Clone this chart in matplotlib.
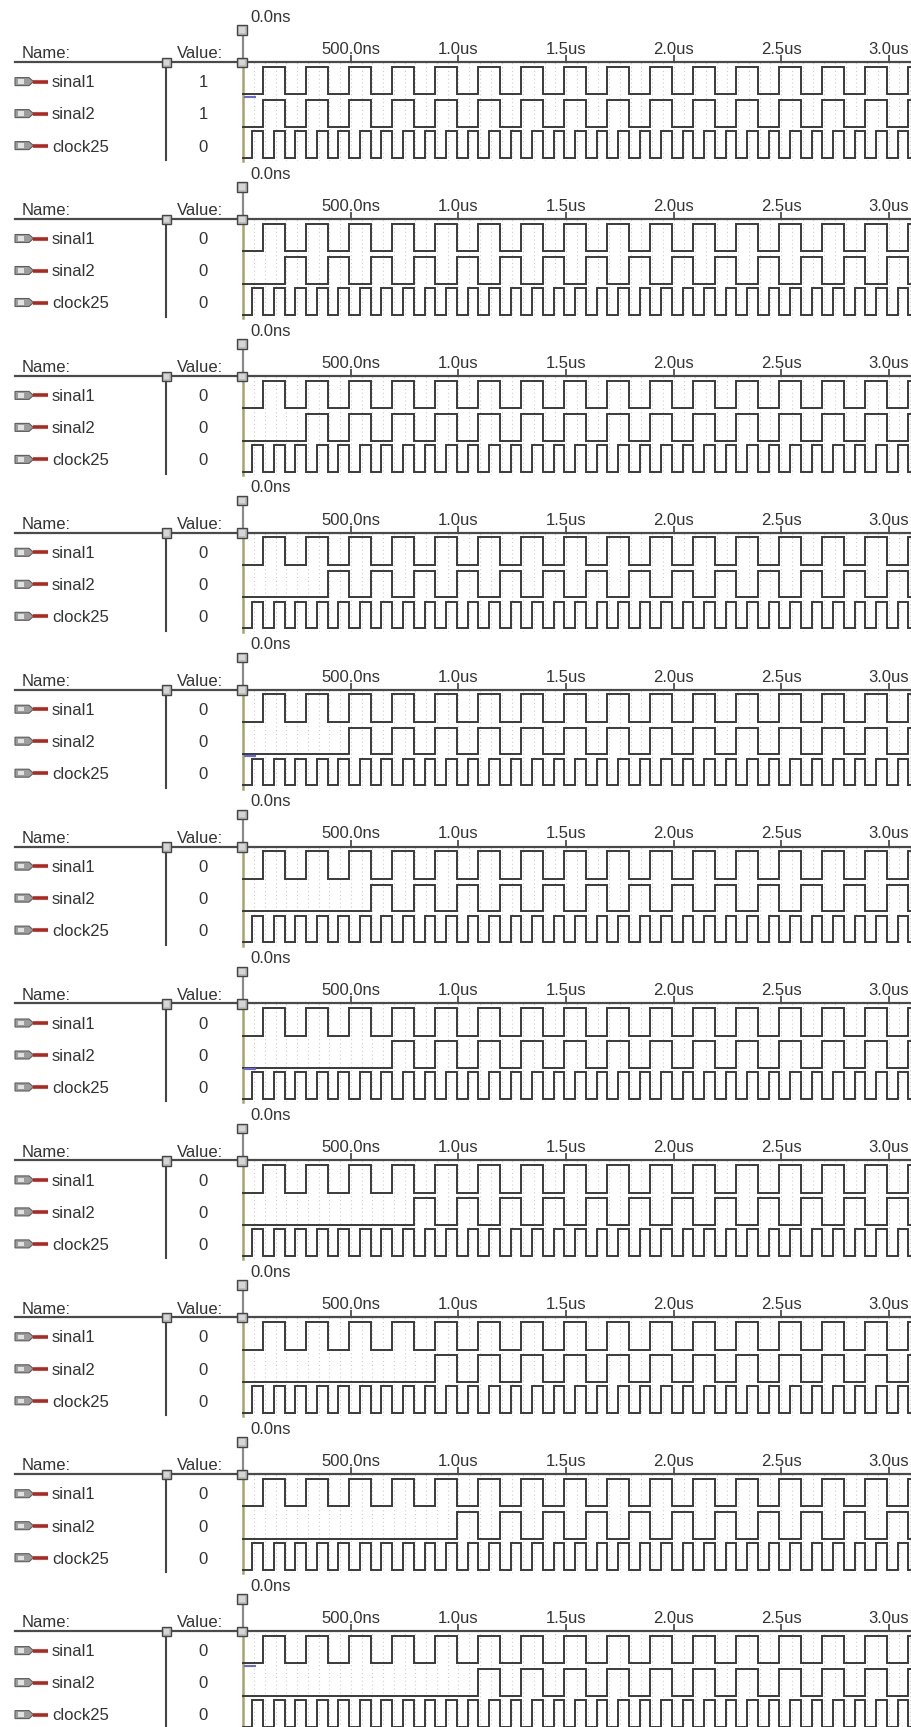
import matplotlib
matplotlib.use("Agg")
import matplotlib.pyplot as plt
from matplotlib.patches import Rectangle, Polygon

plt.rcParams['font.family'] = ['Liberation Sans', 'DejaVu Sans']

# values, times in ns
signal_names = ['sinal1', 'sinal2', 'clock25']
panel_values = [
    ['1', '1', '0'],
    ['0', '0', '0'],
    ['0', '0', '0'],
    ['0', '0', '0'],
    ['0', '0', '0'],
    ['0', '0', '0'],
    ['0', '0', '0'],
    ['0', '0', '0'],
    ['0', '0', '0'],
    ['0', '0', '0'],
    ['0', '0', '0'],
]
sinal2_delay_ns = [0, 100, 200, 300, 400, 500, 600, 700, 800, 900, 1000]
sinal1_toggle_ns = [92, 192, 292, 392, 492, 592, 692, 792, 892, 992,
                    1092, 1192, 1292, 1392, 1492, 1592, 1692, 1792, 1892, 1992,
                    2092, 2192, 2292, 2392, 2492, 2592, 2692, 2792, 2892, 2992,
                    3092]
clock25_edge_ns = [42, 92, 142, 192, 242, 292, 342, 392, 442, 492,
                   542, 592, 642, 692, 742, 792, 842, 892, 942, 992,
                   1042, 1092, 1142, 1192, 1242, 1292, 1342, 1392, 1442, 1492,
                   1542, 1592, 1642, 1692, 1742, 1792, 1842, 1892, 1942, 1992,
                   2042, 2092, 2142, 2192, 2242, 2292, 2342, 2392, 2442, 2492,
                   2542, 2592, 2642, 2692, 2742, 2792, 2842, 2892, 2942, 2992,
                   3042, 3092]
tick_ns = [500, 1000, 1500, 2000, 2500, 3000]
tick_labels = ['500.0ns', '1.0us', '1.5us', '2.0us', '2.5us', '3.0us']
blue_mark_row = [1, None, None, None, 2, None, 2, None, None, None, 1]
blue_mark_ns = [7, 54]

# layout (pixels of the 912x1727 picture)
W, H = 912, 1727
PANEL_H = 156.9
X0 = 243.4          # x of t = 0
PX_NS = 0.2151      # pixels per ns
LINE_Y = 62         # header line inside a panel
AX_LEFT = 15
AX_H = 99
T_END = (W - X0) / PX_NS
levels = [(4.7, 32.3), (38.0, 64.7), (69.0, 95.7)]   # (high, low) below header line
row_base = [87.3, 119.4, 151.5]
row_mid = [81.6, 113.6, 145.6]
INK = '#333333'
WAVE = '#3a3a3a'
FS = 12


def waveform(ax, toggles, hi, lo):
    xs, ys, lev = [0], [lo], lo
    for t in toggles:
        if t >= T_END:
            break
        lev = hi if lev == lo else lo
        xs.append(t)
        ys.append(lev)
    xs.append(T_END)
    ys.append(lev)
    ax.step(xs, ys, where='post', color=WAVE, lw=1.4, solid_joinstyle='miter', zorder=3)


def handle(ov, cx, cy, s=9.5):
    ov.add_patch(Rectangle((cx - s / 2, cy - s / 2), s, s, facecolor='#bdbdbd',
                           edgecolor='#454545', lw=1.0, zorder=6))
    ov.add_patch(Rectangle((cx - s / 2 + 2, cy - s / 2 + 2), s - 4, s - 4,
                           facecolor='#d6d6d6', edgecolor='none', zorder=7))


def icon(ov, y):
    ov.add_patch(Polygon([(15, y - 4), (29, y - 4), (33.5, y), (29, y + 4), (15, y + 4)],
                         closed=True, facecolor='#9c9c9c', edgecolor='#5e5e5e', lw=0.8, zorder=6))
    ov.add_patch(Rectangle((18, y - 2.2), 6, 4.4, facecolor='#e2e2e2', edgecolor='none', zorder=7))
    ov.plot([33.5, 48], [y, y], color='#b3261e', lw=2.6, solid_capstyle='butt', zorder=6)


fig = plt.figure(figsize=(W / 100, H / 100), dpi=100)
fig.patch.set_facecolor('white')

for k in range(len(panel_values)):
    off = k * PANEL_H
    top = off + LINE_Y
    ax = fig.add_axes([AX_LEFT / W, 1 - (top + AX_H) / H, (W - AX_LEFT) / W, AX_H / H])
    ax.set_xlim((AX_LEFT - X0) / PX_NS, T_END)
    ax.set_ylim(AX_H, 0)
    for side in ['left', 'right', 'bottom']:
        ax.spines[side].set_visible(False)
    ax.spines['top'].set_color('#4a4a4a')
    ax.spines['top'].set_linewidth(1.6)
    ax.set_yticks([])
    ax.set_xticks(tick_ns, labels=[''] * len(tick_ns))
    ax.set_xticks([t for t in range(50, int(T_END), 50)], minor=True)
    ax.tick_params(axis='x', which='major', top=True, bottom=False, labeltop=False,
                   labelbottom=False, direction='out', length=5, width=1.2, color='#404040')
    ax.tick_params(axis='x', which='minor', top=False, bottom=False, length=0)
    ax.grid(True, which='both', axis='x', color='#cdcdcd', lw=0.8, ls=(0, (1, 2.5)))
    ax.set_axisbelow(True)
    for t, lab in zip(tick_ns, tick_labels):
        ax.text(t, -8, lab, ha='center', va='baseline', fontsize=FS, color=INK, clip_on=False)
    ax.text(6.5 / PX_NS, 21.7 - LINE_Y, '0.0ns', ha='left', va='baseline', fontsize=FS,
            color=INK, clip_on=False)

    # cursor at t = 0
    ax.plot([0, 0], [30 - LINE_Y, 0], color='#8a8a8a', lw=1.6, clip_on=False, zorder=2)
    ax.plot([0, 0], [0, AX_H], color='#a9a26c', lw=1.8, clip_on=False, zorder=2)

    waveform(ax, sinal1_toggle_ns, *levels[0])
    waveform(ax, [t + sinal2_delay_ns[k] for t in sinal1_toggle_ns], *levels[1])
    waveform(ax, clock25_edge_ns, *levels[2])

    r = blue_mark_row[k]
    if r is not None:
        ax.plot(blue_mark_ns, [levels[r][0] - 3] * 2, color='#6868d8', lw=1.5, zorder=4)

ov = fig.add_axes([0, 0, 1, 1])
ov.set_xlim(0, W)
ov.set_ylim(H, 0)
ov.axis('off')
ov.patch.set_alpha(0)

for k, vals in enumerate(panel_values):
    off = k * PANEL_H
    ov.text(22, off + 58.3, 'Name:', ha='left', va='baseline', fontsize=FS, color=INK)
    ov.text(222.7, off + 58.3, 'Value:', ha='right', va='baseline', fontsize=FS, color=INK)
    ov.plot([166.5, 166.5], [off + 66, off + 160], color='#454545', lw=1.5, zorder=5)
    handle(ov, 166.7, off + 62.5)
    handle(ov, X0 - 1.5, off + 62.5)
    handle(ov, X0 - 1.5, off + 30)
    for i, name in enumerate(signal_names):
        icon(ov, off + row_mid[i])
        ov.text(52, off + row_base[i], name, ha='left', va='baseline', fontsize=FS, color=INK)
        ov.text(203, off + row_base[i], vals[i], ha='center', va='baseline', fontsize=FS, color=INK)

fig.savefig('out.png', dpi=100, facecolor='white')
